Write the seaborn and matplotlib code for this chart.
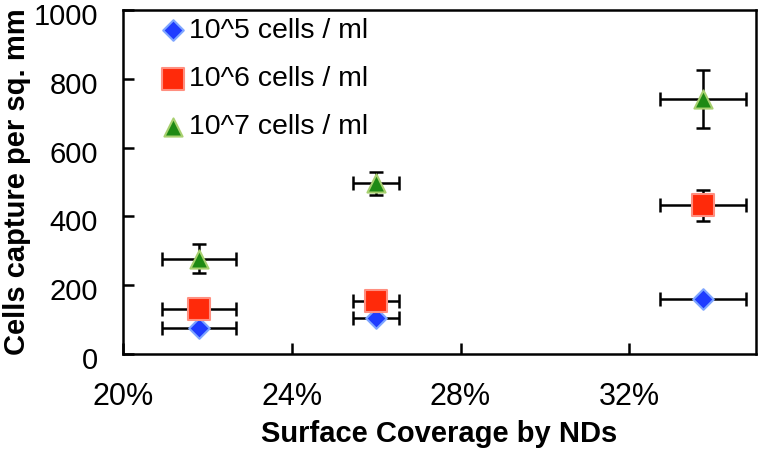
import pandas as pd
import matplotlib
matplotlib.use('Agg')
import matplotlib.pyplot as plt
import matplotlib.transforms as mtransforms
import seaborn as sns

# Values
coverage = [21.8, 26.0, 33.75]          # % surface coverage by NDs
coverage_err = [0.87, 0.54, 1.02]

series = ['10^5 cells / ml', '10^6 cells / ml', '10^7 cells / ml']
capture_1e5 = [75, 104, 159]
capture_1e6 = [130, 153, 433]
capture_1e7 = [277, 496, 742]
err_1e5 = [8, 8, 8]
err_1e6 = [12, 12, 45]
err_1e7 = [42, 33, 84]

x_ticks = [20, 24, 28, 32]
x_tick_labels = ['20%', '24%', '28%', '32%']
y_ticks = [0, 200, 400, 600, 800, 1000]

# Build one long table
rows = []
for name, vals, errs in zip(series, [capture_1e5, capture_1e6, capture_1e7],
                            [err_1e5, err_1e6, err_1e7]):
    for x, xe, y, ye in zip(coverage, coverage_err, vals, errs):
        rows.append({'coverage': x, 'xerr': xe, 'capture': y, 'yerr': ye, 'series': name})
df = pd.DataFrame(rows)

sns.set_style('white')
plt.rcParams['font.family'] = ['Liberation Sans', 'DejaVu Sans']
plt.rcParams['text.color'] = 'black'
plt.rcParams['axes.labelcolor'] = 'black'
plt.rcParams['xtick.color'] = 'black'
plt.rcParams['ytick.color'] = 'black'

colors = {series[0]: '#1f3cff', series[1]: '#ff2a0a', series[2]: '#1e8a14'}
edges = {series[0]: '#7fa6ff', series[1]: '#ff8f80', series[2]: '#a8d070'}
markers = {series[0]: 'D', series[1]: 's', series[2]: '^'}
sizes = {series[0]: 110, series[1]: 230, series[2]: 170}

fig, ax = plt.subplots(figsize=(7.59, 4.51), dpi=100)
fig.subplots_adjust(left=0.162, right=0.996, top=0.978, bottom=0.215)

# error bars behind the markers
for name, grp in df.groupby('series', sort=False):
    ax.errorbar(grp['coverage'], grp['capture'], xerr=grp['xerr'], yerr=grp['yerr'],
                fmt='none', ecolor='black', elinewidth=1.8, capsize=5, capthick=1.8,
                zorder=1)

for name in series:
    sns.scatterplot(data=df[df['series'] == name], x='coverage', y='capture',
                    marker=markers[name], color=colors[name], edgecolor=edges[name],
                    linewidth=1.5, s=sizes[name], label=name, ax=ax, zorder=3)

ax.set_xlim(20, 35)
ax.set_ylim(0, 1000)
ax.set_xticks(x_ticks, x_tick_labels)
ax.set_yticks(y_ticks)
ax.tick_params(direction='in', length=8, width=1.8, bottom=True, left=True)
ax.tick_params(axis='x', pad=20, labelsize=22)
ax.tick_params(axis='y', pad=18, labelsize=21)
for sp in ax.spines.values():
    sp.set_linewidth(1.8)
    sp.set_color('black')

# y tick labels sit a little below their ticks in the original
shift = mtransforms.ScaledTranslation(0, -4 / 100, fig.dpi_scale_trans)
for lbl in ax.get_yticklabels():
    lbl.set_transform(lbl.get_transform() + shift)

ax.set_xlabel('Surface Coverage by NDs', fontsize=21, fontweight='bold', labelpad=6)
ax.set_ylabel('Cells capture per sq. mm', fontsize=21, fontweight='bold', labelpad=2)

ax.legend(loc='upper left', frameon=False, fontsize=20.5, handlelength=1.0,
          handletextpad=0.05, labelspacing=0.78, borderaxespad=0.0,
          bbox_to_anchor=(0.039, 1.01))

fig.savefig('out.png', dpi=100)
